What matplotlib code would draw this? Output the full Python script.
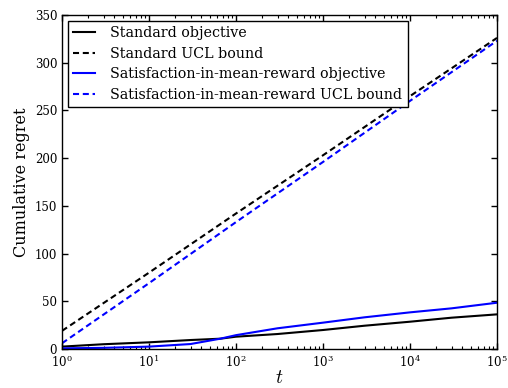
import matplotlib
matplotlib.use("Agg")
import matplotlib.pyplot as plt
import numpy as np

# Data
t_ucl = [1, 10, 100, 1000, 10000, 100000]
std_ucl = [19, 80, 142, 203, 265, 326]
sat_ucl = [6, 69, 133, 196, 260, 323]

t_obj = [1, 3, 10, 30, 66, 100, 300, 1000, 3000, 10000, 30000, 100000]
std_obj = [2.5, 5.0, 7.0, 9.4, 10.8, 12.9, 15.7, 19.9, 24.4, 28.6, 32.8, 36.3]
sat_obj = [0.7, 1.2, 2.5, 5.2, 10.8, 14.5, 21.7, 27.6, 33.2, 38.4, 42.6, 48.5]

labels = ["Standard objective", "Standard UCL bound",
          "Satisfaction-in-mean-reward objective",
          "Satisfaction-in-mean-reward UCL bound"]

plt.rcParams['font.family'] = ['DejaVu Serif']
plt.rcParams['mathtext.fontset'] = 'cm'

fig = plt.figure(figsize=(5.08, 3.88), dpi=100)
ax = fig.add_axes([62/508, 1-349/388, (497-62)/508, (349-15)/388])

dash = (0, (2.9, 1.8))
ax.plot(t_obj, std_obj, color='black', lw=1.5, label=labels[0])
ax.plot(t_ucl, std_ucl, color='black', lw=1.5, ls=dash, label=labels[1])
ax.plot(t_obj, sat_obj, color='blue', lw=1.5, label=labels[2])
ax.plot(t_ucl, sat_ucl, color='blue', lw=1.5, ls=dash, label=labels[3])

ax.set_xscale('log')
ax.set_xlim(1, 1e5)
ax.set_ylim(0, 350)
ax.set_yticks(range(0, 351, 50))
ax.tick_params(which='both', direction='in', top=True, right=True, labelsize=8.5)
ax.tick_params(which='major', length=4, width=1)
ax.tick_params(which='minor', length=2, width=0.8)
ax.tick_params(axis='x', pad=4)
for s in ax.spines.values():
    s.set_linewidth(1)

ax.set_xlabel('$t$', fontsize=14, labelpad=-1)
ax.set_ylabel('Cumulative regret', fontsize=11.5, labelpad=3)

leg = ax.legend(loc='upper left', fontsize=10.25, fancybox=False, framealpha=1,
                edgecolor='black', borderaxespad=0.4, handlelength=1.55,
                handletextpad=1.05, labelspacing=0.45, borderpad=0.4)
leg.get_frame().set_linewidth(1)

fig.savefig('out.png', dpi=100)
